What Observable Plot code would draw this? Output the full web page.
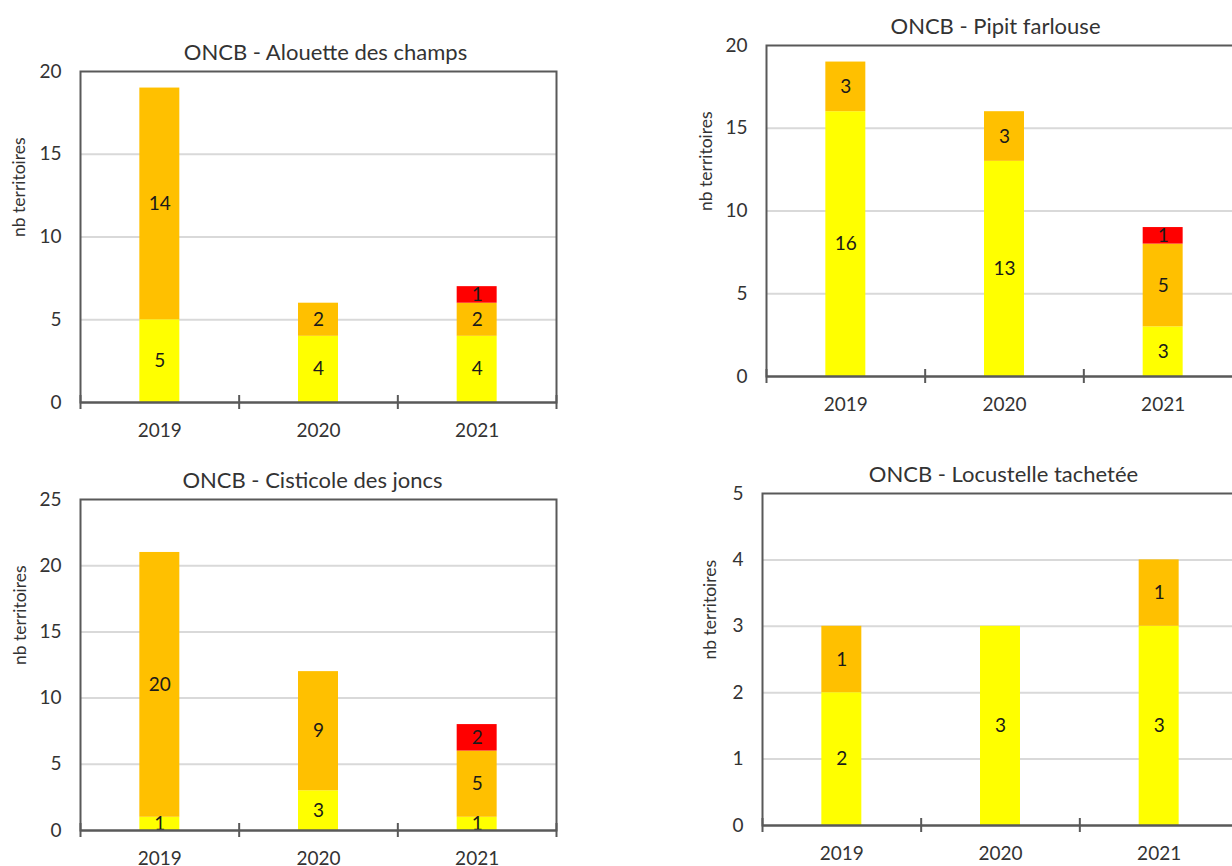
<!DOCTYPE html>
<html>
<head>
<meta charset="utf-8">
<script src="https://cdn.jsdelivr.net/npm/d3@7"></script>
<script src="https://cdn.jsdelivr.net/npm/@observablehq/plot@0.6"></script>
<style>
  html, body { margin: 0; padding: 0; background: #fff; }
  #root { position: relative; width: 1232px; height: 866px; overflow: hidden; background: #fff; }
  .panel { position: absolute; width: 640px; }
  .panel svg { overflow: visible; max-width: none !important; }
</style>
</head>
<body>
<div id="root"></div>
<script>
// ---- Data ----
const years = [2019, 2020, 2021];
const categories = ["jaune", "orange", "rouge"];
const colors = ["#FFFF00", "#FFC000", "#FF0000"];

const titles = [
  "ONCB - Alouette des champs",
  "ONCB - Pipit farlouse",
  "ONCB - Cisticole des joncs",
  "ONCB - Locustelle tachetée"
];
const yLabel = "nb territoires";

const alouetteJaune = [5, 4, 4];
const alouetteOrange = [14, 2, 2];
const alouetteRouge = [0, 0, 1];

const pipitJaune = [16, 13, 3];
const pipitOrange = [3, 3, 5];
const pipitRouge = [0, 0, 1];

const cisticoleJaune = [1, 3, 1];
const cisticoleOrange = [20, 9, 5];
const cisticoleRouge = [0, 0, 2];

const locustelleJaune = [2, 3, 3];
const locustelleOrange = [1, 0, 1];
const locustelleRouge = [0, 0, 0];

const yMax = [20, 20, 25, 5];
const yTicks = [[0, 5, 10, 15, 20], [0, 5, 10, 15, 20], [0, 5, 10, 15, 20, 25], [0, 1, 2, 3, 4, 5]];

// ---- Layout (pixel placement of each panel's frame) ----
const layout = [
  {left: 80, top: 71, plotH: 331, labelDx: -61, titleDx: 7},
  {left: 766, top: 45, plotH: 331, labelDx: -60, titleDx: -9},
  {left: 80, top: 499, plotH: 331, labelDx: -60, titleDx: -6},
  {left: 762, top: 493, plotH: 332, labelDx: -52, titleDx: 3}
];
const series = [
  [alouetteJaune, alouetteOrange, alouetteRouge],
  [pipitJaune, pipitOrange, pipitRouge],
  [cisticoleJaune, cisticoleOrange, cisticoleRouge],
  [locustelleJaune, locustelleOrange, locustelleRouge]
];

const FONT = "Lato, 'Open Sans', sans-serif";
const TEXT = "#333333";
const AXIS = "#595959";
const MT = 60, ML = 80, MR = 84, MB = 50, PLOTW = 476;
const halfBar = 0.126;

const root = document.getElementById("root");

series.forEach((s, p) => {
  const segs = [];
  years.forEach((yr, i) => {
    let base = 0;
    categories.forEach((c, k) => {
      const v = s[k][i];
      if (v > 0) segs.push({year: yr, cat: c, value: v, y1: base, y2: base + v});
      base += v;
    });
  });
  const L = layout[p];
  const boundaries = [years[0] - 0.5, ...years.map(y => y + 0.5)];
  const chart = Plot.plot({
    width: ML + PLOTW + MR,
    height: MT + L.plotH + MB,
    marginLeft: ML, marginRight: MR, marginTop: MT, marginBottom: MB,
    style: {fontFamily: FONT, color: TEXT, background: "transparent", overflow: "visible"},
    x: {type: "linear", domain: [years[0] - 0.5, years[years.length - 1] + 0.5]},
    y: {domain: [0, yMax[p]]},
    color: {domain: categories, range: colors},
    marks: [
      Plot.ruleY(yTicks[p].filter(t => t > 0 && t < yMax[p]), {stroke: "#d9d9d9", strokeWidth: 2}),
      Plot.rectY(segs, {
        x1: d => d.year - halfBar, x2: d => d.year + halfBar,
        y1: "y1", y2: "y2", fill: "cat"
      }),
      Plot.text(segs, {
        x: "year", y: d => (d.y1 + d.y2) / 2, text: d => String(d.value),
        fontSize: 19, fill: "#1a1a1a"
      }),
      Plot.frame({stroke: AXIS, strokeWidth: 2}),
      Plot.ruleY([0], {stroke: AXIS, strokeWidth: 2}),
      Plot.ruleX(boundaries, {y1: 0, y2: 0, insetTop: 7, insetBottom: 7, stroke: AXIS, strokeWidth: 2}),
      Plot.axisY(yTicks[p], {tickSize: 0, tickPadding: 19, fontSize: 19, fill: TEXT, label: null, tickFormat: d3.format("d")}),
      Plot.axisX(years, {tickSize: 0, tickPadding: 21, fontSize: 19, fill: TEXT, tickFormat: "d", label: null}),
      Plot.text([titles[p]], {frameAnchor: "top", dy: -19, dx: L.titleDx, lineAnchor: "middle", fontSize: 22, fill: TEXT}),
      Plot.text([yLabel], {frameAnchor: "left", dx: L.labelDx, rotate: -90, fontSize: 17.5, fill: TEXT})
    ]
  });
  const wrap = document.createElement("div");
  wrap.className = "panel";
  wrap.style.left = (L.left - ML) + "px";
  wrap.style.top = (L.top - MT) + "px";
  wrap.appendChild(chart);
  root.appendChild(wrap);
});
</script>
</body>
</html>
